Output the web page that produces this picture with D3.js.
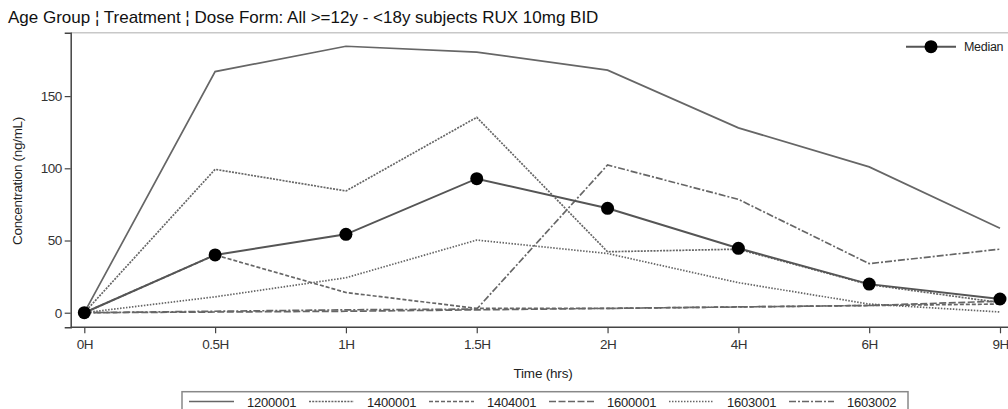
<!DOCTYPE html>
<html>
<head>
<meta charset="utf-8">
<script src="https://cdn.jsdelivr.net/npm/d3@7"></script>
<style>
  body { margin: 0; background: #fff; }
  svg { display: block; font-family: "Liberation Sans", Arial, sans-serif; }
  .tick text { fill: #333; }
</style>
</head>
<body>
<div id="chart"></div>
<script>
// data
var timepoints = ["0H", "0.5H", "1H", "1.5H", "2H", "4H", "6H", "9H"];
var subjects = ["1200001", "1400001", "1404001", "1600001", "1603001", "1603002"];
var conc1200001 = [0, 167, 184.5, 180.5, 168, 128, 101, 58.5];
var conc1400001 = [0, 99.3, 84.3, 135.3, 42.2, 44, 19.5, 7];
var conc1404001 = [0, 40, 14, 3, 3, 4, 5, 6];
var conc1600001 = [0, 0.5, 1, 2, 3, 4, 5, 8];
var conc1603001 = [0, 11, 24.2, 50.3, 41, 20.8, 6, 0.5];
var conc1603002 = [0, 1, 2, 2.5, 102.3, 78.5, 34, 44];
var medianConc = [0, 40, 54.3, 92.8, 72.3, 44.6, 19.8, 9.5];
var yTicks = [0, 50, 100, 150];

var dashes = ["none", "2,1.2", "4,2", "7,2.5", "1.5,1.5", "7,2,2,2"];
var series = [conc1200001, conc1400001, conc1404001, conc1600001, conc1603001, conc1603002]
    .map(function(v, i) { return {id: subjects[i], values: v, dash: dashes[i]}; });

var width = 1008,
    height = 409;

var svg = d3.select("#chart").append("svg")
    .attr("width", width)
    .attr("height", height);

var x = d3.scalePoint()
    .domain(timepoints)
    .range([84.3, 1000]);
var y = d3.scaleLinear()
    .domain([-10.1, 193.9])
    .range([327.3, 32.7]);

// title
svg.append("text")
    .attr("x", 8).attr("y", 23)
    .attr("font-size", "17px")
    .attr("fill", "#111")
    .text("Age Group \u00a6 Treatment \u00a6 Dose Form: All >=12y - <18y subjects RUX 10mg BID");

// frame
svg.append("line")
    .attr("x1", 70.7).attr("x2", width)
    .attr("y1", 32.7).attr("y2", 32.7)
    .attr("stroke", "#c8c8c8").attr("stroke-width", 1.5);

var yAxis = svg.append("g")
    .attr("transform", "translate(70.7,0)")
    .call(d3.axisLeft(y).tickValues(yTicks).tickSize(6).tickPadding(3));
var xAxis = svg.append("g")
    .attr("transform", "translate(0,327.3)")
    .call(d3.axisBottom(x).tickSize(6).tickPadding(6));

[yAxis, xAxis].forEach(function(ax) {
    ax.select(".domain").attr("stroke", "#444").attr("stroke-width", 1.5);
    ax.selectAll(".tick line").attr("stroke", "#444").attr("stroke-width", 1.2);
    ax.selectAll(".tick text").attr("font-size", "13.5px").attr("letter-spacing", "-0.5px")
        .attr("font-family", "Liberation Sans, Arial");
});
xAxis.select(".domain").attr("d", "M70.7,0H" + width);

// axis labels
svg.append("text")
    .attr("transform", "translate(22,181) rotate(-90)")
    .attr("text-anchor", "middle")
    .attr("font-size", "13.5px")
    .attr("letter-spacing", "-0.3px")
    .attr("fill", "#222")
    .text("Concentration (ng/mL)");
svg.append("text")
    .attr("x", 543).attr("y", 378)
    .attr("text-anchor", "middle")
    .attr("font-size", "13.5px")
    .attr("letter-spacing", "-0.2px")
    .attr("fill", "#222")
    .text("Time (hrs)");

var linefun = d3.line()
    .x(function(d, i) { return x(timepoints[i]); })
    .y(function(d) { return y(d); });

svg.selectAll(".subject")
    .data(series)
    .enter()
        .append("path").attr("class", "subject")
        .attr("d", function(d) { return linefun(d.values); })
        .attr("fill", "none")
        .attr("stroke", "#666")
        .attr("stroke-width", 1.7)
        .attr("stroke-dasharray", function(d) { return d.dash; });

// median
svg.append("path")
    .attr("d", linefun(medianConc))
    .attr("fill", "none")
    .attr("stroke", "#555")
    .attr("stroke-width", 2);
svg.selectAll(".med")
    .data(medianConc)
    .enter()
        .append("circle").attr("class", "med")
        .attr("cx", function(d, i) { return x(timepoints[i]); })
        .attr("cy", function(d) { return y(d); })
        .attr("r", 6.5)
        .attr("fill", "#000");

// median legend
svg.append("line")
    .attr("x1", 906).attr("x2", 956)
    .attr("y1", 46.7).attr("y2", 46.7)
    .attr("stroke", "#555").attr("stroke-width", 2);
svg.append("circle")
    .attr("cx", 931).attr("cy", 46.7).attr("r", 6.5).attr("fill", "#000");
svg.append("text")
    .attr("x", 964).attr("y", 51)
    .attr("font-size", "12.5px")
    .attr("letter-spacing", "-0.3px")
    .attr("fill", "#222")
    .text("Median");

// bottom legend
svg.append("rect")
    .attr("x", 182).attr("y", 391.7)
    .attr("width", 726).attr("height", 30)
    .attr("fill", "#fff")
    .attr("stroke", "#888").attr("stroke-width", 1.5);

var leg = svg.selectAll(".leg")
    .data(series)
    .enter()
        .append("g").attr("class", "leg")
        .attr("transform", function(d, i) { return "translate(" + (189 + i * 120) + ",401.5)"; });
leg.append("line")
    .attr("x1", 0).attr("x2", 45)
    .attr("stroke", "#666").attr("stroke-width", 1.5)
    .attr("stroke-dasharray", function(d) { return d.dash; });
leg.append("text")
    .attr("x", 58).attr("y", 5)
    .attr("font-size", "13px")
    .attr("letter-spacing", "-0.2px")
    .attr("fill", "#222")
    .text(function(d) { return d.id; });
</script>
</body>
</html>
